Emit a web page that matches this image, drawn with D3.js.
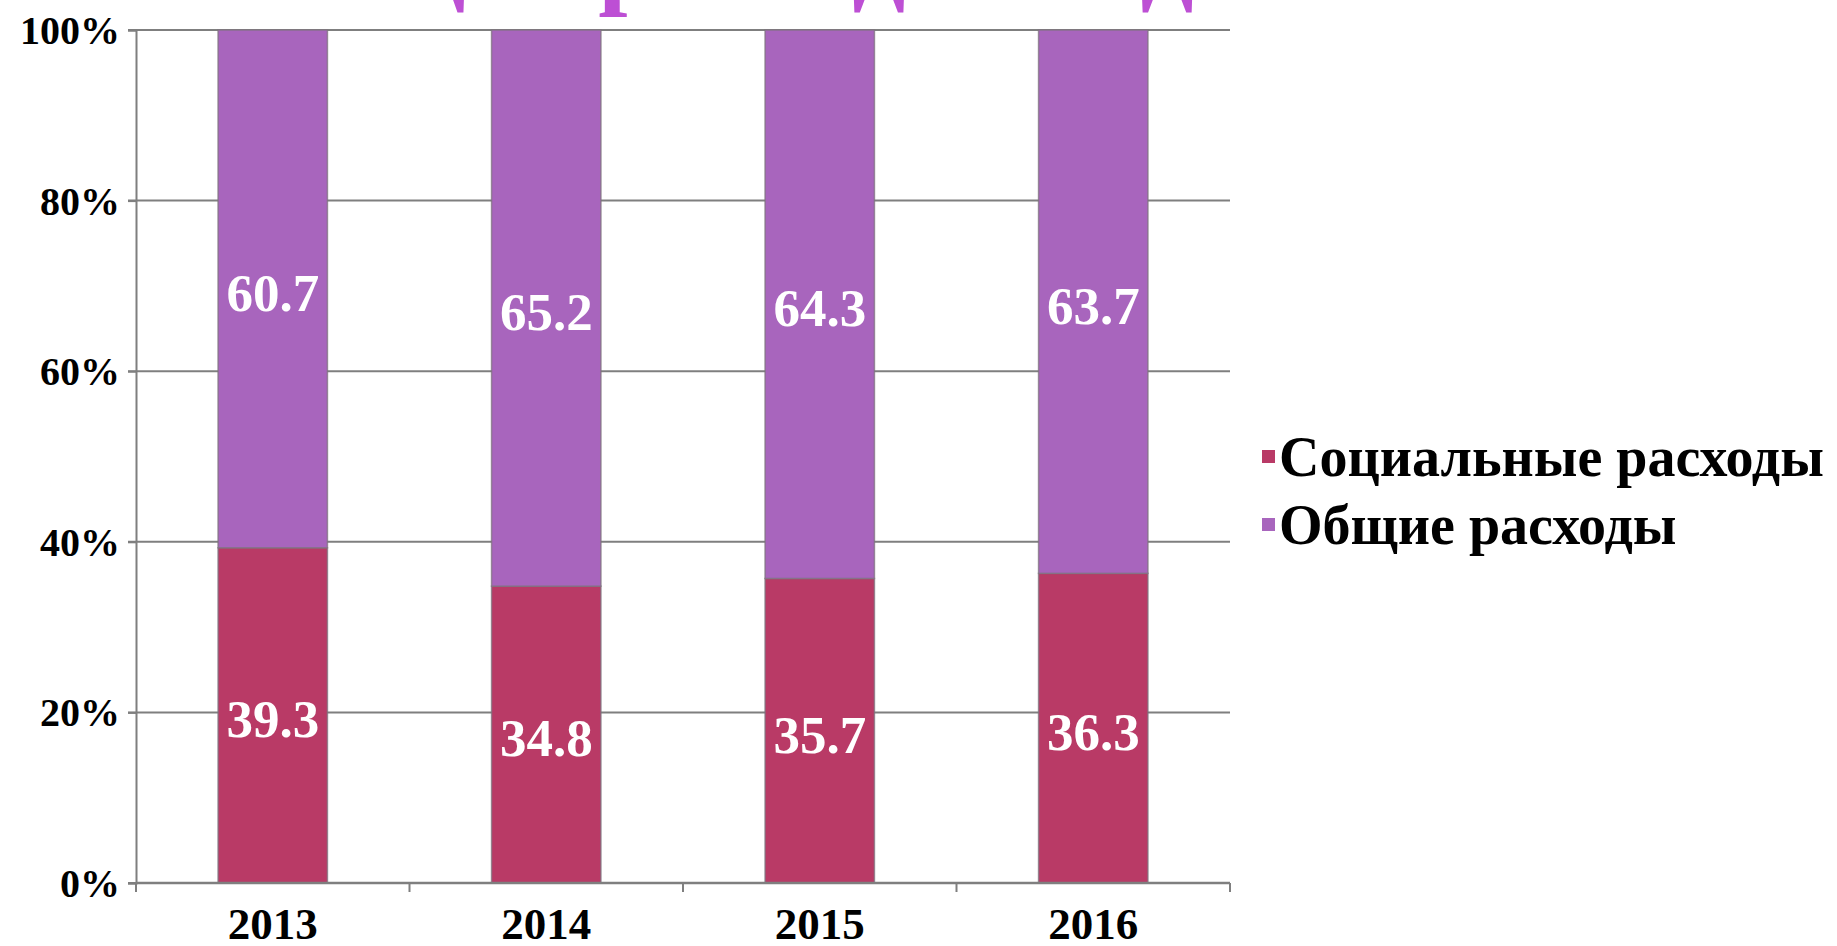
<!DOCTYPE html>
<html>
<head>
<meta charset="utf-8">
<script src="https://cdn.jsdelivr.net/npm/d3@7"></script>
<style>
html, body { margin: 0; padding: 0; background: #ffffff; overflow: hidden; }
svg { display: block; }
</style>
</head>
<body>
<svg id="chart" width="1837" height="946"></svg>
<script>
// ---- data ----
const categories = ["2013", "2014", "2015", "2016"];
const socialValues = [39.3, 34.8, 35.7, 36.3];
const generalValues = [60.7, 65.2, 64.3, 63.7];
const seriesNames = ["Социальные расходы", "Общие расходы"];
const yTickValues = [0, 20, 40, 60, 80, 100];
const titleText = "Общие расходы бюджета";

// ---- styles ----
const colors = ["#b93a66", "#a865bd"];
const fontFamily = "'Liberation Serif', 'Times New Roman', serif";
const gridColor = "#7f7f7f";

const svg = d3.select("#chart");
const plot = { left: 136, right: 1230, top: 30, bottom: 883 };

const x = d3.scaleBand()
  .domain(categories)
  .range([plot.left, plot.right])
  .paddingInner(0.6)
  .paddingOuter(0.3);

const y = d3.scaleLinear()
  .domain([0, 100])
  .range([plot.bottom, plot.top]);

// ---- title (mostly cut off at top) ----
const titleSize = 105;
const tmp = svg.append("text")
  .attr("font-family", fontFamily).attr("font-weight", "bold")
  .attr("font-size", titleSize)
  .text("Общие ");
const preW = tmp.node().getComputedTextLength();
tmp.remove();
svg.append("text")
  .attr("x", 572 - preW)
  .attr("y", -6)
  .attr("font-family", fontFamily)
  .attr("font-weight", "bold")
  .attr("font-size", titleSize)
  .attr("fill", "#bd4fd4")
  .text(titleText);

// ---- gridlines ----
svg.append("g")
  .selectAll("line")
  .data(yTickValues)
  .join("line")
  .attr("x1", plot.left - 8)
  .attr("x2", plot.right)
  .attr("y1", d => y(d))
  .attr("y2", d => y(d))
  .attr("stroke", gridColor)
  .attr("stroke-width", 2);

// ---- stacked bars ----
const rows = categories.map((c, i) => ({ cat: c, social: socialValues[i], general: generalValues[i] }));
const stack = d3.stack().keys(["social", "general"]);
const stacked = stack(rows);

const groups = svg.append("g")
  .selectAll("g")
  .data(stacked)
  .join("g")
  .attr("fill", (d, i) => colors[i]);

groups.selectAll("rect")
  .data(d => d)
  .join("rect")
  .attr("x", d => x(d.data.cat))
  .attr("width", x.bandwidth())
  .attr("y", d => y(d[1]))
  .attr("height", d => y(d[0]) - y(d[1]))
  .attr("stroke", "rgba(125,115,125,0.75)")
  .attr("stroke-width", 1.5);

// ---- value labels ----
const labelSize = 53;
groups.selectAll("text")
  .data(d => d)
  .join("text")
  .attr("x", d => x(d.data.cat) + x.bandwidth() / 2)
  .attr("y", d => (y(d[0]) + y(d[1])) / 2 + labelSize * 0.338 + 4)
  .attr("text-anchor", "middle")
  .attr("font-family", fontFamily)
  .attr("font-weight", "bold")
  .attr("font-size", labelSize)
  .attr("fill", "#ffffff")
  .text(d => (d[1] - d[0]).toFixed(1));

// ---- y axis ----
const yAxis = d3.axisLeft(y)
  .tickValues(yTickValues)
  .tickFormat(d => d + "%")
  .tickSize(8)
  .tickPadding(8);
const yg = svg.append("g")
  .attr("transform", `translate(${plot.left},0)`)
  .call(yAxis);
yg.select(".domain").attr("stroke", gridColor).attr("stroke-width", 2);
yg.selectAll(".tick line").attr("stroke", gridColor).attr("stroke-width", 2);
yg.selectAll(".tick text")
  .attr("font-family", fontFamily)
  .attr("font-weight", "bold")
  .attr("font-size", 40)
  .attr("fill", "#000")
  .attr("dy", "0.338em");

// ---- x axis ----
const xg = svg.append("g")
  .attr("transform", `translate(0,${plot.bottom})`);
xg.append("line")
  .attr("x1", plot.left).attr("x2", plot.right)
  .attr("stroke", gridColor).attr("stroke-width", 2.5);
const boundaries = d3.range(categories.length + 1).map(i => plot.left + i * x.step());
xg.selectAll(".btick")
  .data(boundaries)
  .join("line")
  .attr("class", "btick")
  .attr("x1", d => d).attr("x2", d => d)
  .attr("y1", 0).attr("y2", 9)
  .attr("stroke", gridColor).attr("stroke-width", 2);
xg.selectAll(".xlabel")
  .data(categories)
  .join("text")
  .attr("class", "xlabel")
  .attr("x", d => x(d) + x.bandwidth() / 2)
  .attr("y", 56)
  .attr("text-anchor", "middle")
  .attr("font-family", fontFamily)
  .attr("font-weight", "bold")
  .attr("font-size", 45)
  .attr("fill", "#000")
  .text(d => d);

// ---- legend ----
const legendSize = 56;
const legend = svg.append("g")
  .selectAll("g")
  .data(seriesNames)
  .join("g")
  .attr("transform", (d, i) => `translate(1262,${457 + i * 68})`);
legend.append("rect")
  .attr("x", 0).attr("y", -7)
  .attr("width", 13).attr("height", 13)
  .attr("fill", (d, i) => colors[i]);
legend.append("text")
  .attr("x", 17)
  .attr("y", legendSize * 0.331)
  .attr("font-family", fontFamily)
  .attr("font-weight", "bold")
  .attr("font-size", legendSize)
  .attr("fill", "#000")
  .text(d => d);
</script>
</body>
</html>
